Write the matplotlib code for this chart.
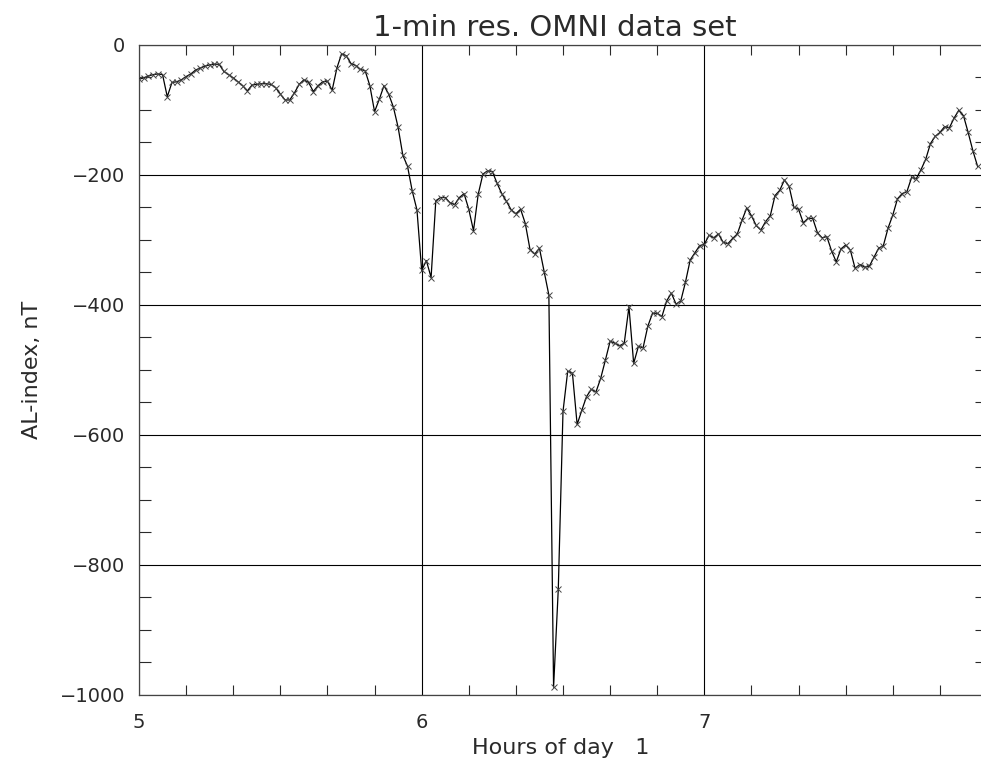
import matplotlib
matplotlib.use("Agg")
import matplotlib.pyplot as plt
from matplotlib.ticker import MultipleLocator
import numpy as np

# Data: AL index, 1-min resolution, starting at 05:00
start_hour = 5
al_index = [
    -53, -51, -48, -46, -45, -46, -80, -58, -57, -54,
    -49, -45, -39, -36, -33, -31, -30, -30, -41, -46,
    -51, -57, -63, -71, -62, -61, -60, -60, -61, -66,
    -76, -85, -85, -74, -61, -54, -58, -72, -63, -57,
    -56, -70, -36, -14, -17, -29, -32, -38, -40, -63,
    -103, -84, -63, -76, -96, -127, -170, -187, -225, -254,
    -347, -332, -358, -240, -235, -235, -243, -246, -235, -229,
    -253, -286, -230, -199, -194, -195, -213, -229, -241, -254,
    -260, -253, -275, -315, -322, -313, -349, -385, -988, -837,
    -564, -502, -505, -584, -562, -541, -530, -534, -513, -485,
    -456, -459, -463, -459, -403, -490, -464, -466, -433, -413,
    -413, -418, -394, -382, -399, -394, -365, -331, -320, -309,
    -307, -293, -297, -291, -304, -306, -298, -291, -270, -251,
    -263, -278, -285, -272, -263, -232, -224, -208, -218, -250,
    -253, -274, -267, -267, -289, -297, -295, -317, -334, -314,
    -308, -316, -344, -338, -342, -341, -327, -313, -309, -282,
    -262, -237, -229, -226, -204, -206, -192, -176, -152, -141,
    -135, -126, -128, -113, -101, -109, -135, -163, -187,
]
hours = start_hour + np.arange(len(al_index)) / 60.0

x_ticks = [5, 6, 7]
y_ticks = [0, -200, -400, -600, -800, -1000]

title = "1-min res. OMNI data set"
x_label = "Hours of day   1"
y_label = "AL-index, nT"

text_color = "#2a2a2a"
plt.rcParams["font.family"] = ["DejaVu Sans"]

fig = plt.figure(figsize=(9.81, 7.64), dpi=100)
W, H = 981.0, 764.0
left, right, top, bottom = 139, 987, 44.7, 695
ax = fig.add_axes([left / W, 1 - bottom / H, (right - left) / W, (bottom - top) / H])

ax.plot(hours, al_index, color="black", lw=0.9, marker="x", ms=3.8,
        mew=0.7, mec="#444444", zorder=3)

ax.set_xlim(5, 8)
ax.set_ylim(-1000, 0)

ax.set_xticks(x_ticks)
ax.set_yticks(y_ticks)
ax.xaxis.set_minor_locator(MultipleLocator(1 / 6))
ax.yaxis.set_minor_locator(MultipleLocator(50))

ax.grid(which="major", color="black", lw=0.8, zorder=1)
ax.tick_params(which="both", direction="in", top=True, right=True,
               colors=text_color, width=0.8)
ax.tick_params(axis="x", which="major", length=0, pad=13, labelsize=14)
ax.tick_params(axis="y", which="major", length=0, pad=10, labelsize=14)
ax.tick_params(axis="x", which="minor", length=7.2)
ax.tick_params(axis="y", which="minor", length=8.6)

for sp in ax.spines.values():
    sp.set_color("#444444")
    sp.set_linewidth(0.9)

ax.set_title(title, fontsize=21, color=text_color, pad=6,
             x=(555 - left) / (right - left))
ax.set_xlabel(x_label, fontsize=16, color=text_color)
ax.set_ylabel(y_label, fontsize=16, color=text_color)
ax.xaxis.set_label_coords((561 - left) / (right - left), -0.066)
ax.yaxis.set_label_coords((42 - left) / (right - left), 0.5)

fig.savefig("out.png", dpi=100)
